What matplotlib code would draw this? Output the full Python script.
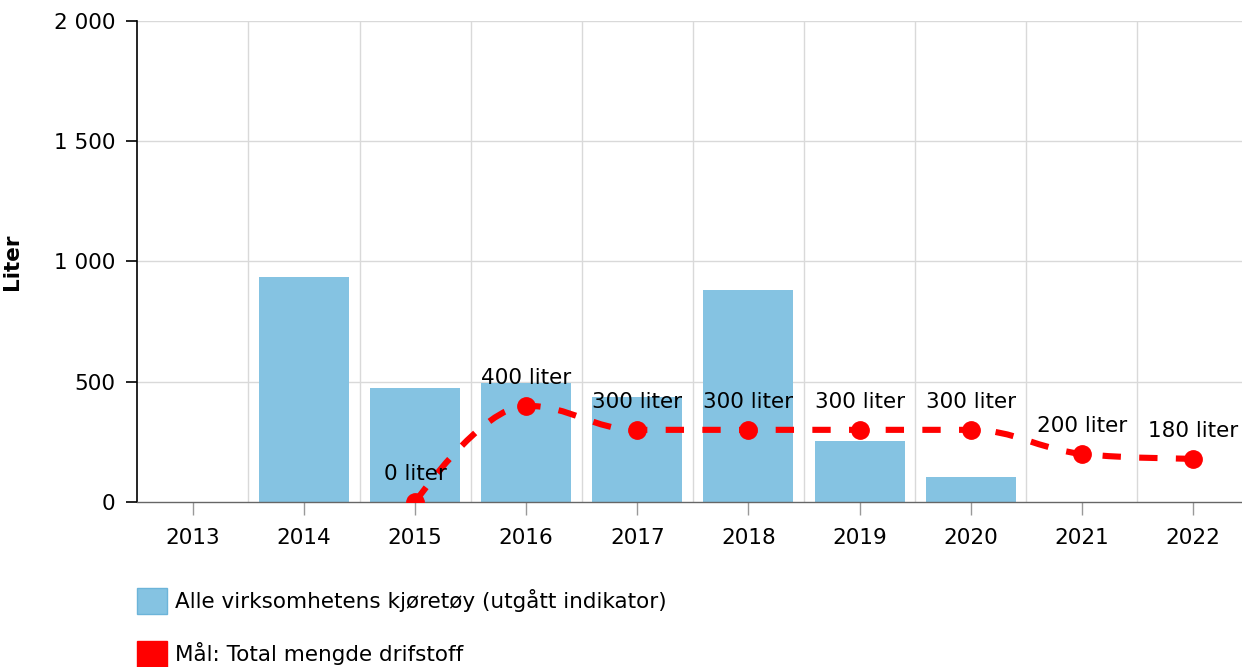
import matplotlib.pyplot as plt
import numpy as np
from matplotlib.path import Path
from matplotlib.patches import PathPatch, Patch
from matplotlib.ticker import FuncFormatter

years = ['2013', '2014', '2015', '2016', '2017', '2018', '2019', '2020', '2021', '2022']
bar_values = [0, 935, 474, 495, 437, 881, 254, 104, 0, 0]
goal_years = ['2015', '2016', '2017', '2018', '2019', '2020', '2021', '2022']
goal_values = [0, 400, 300, 300, 300, 300, 200, 180]

bar_label = 'Alle virksomhetens kjøretøy (utgått indikator)'
goal_label = 'Mål: Total mengde drifstoff'
bar_color = '#85c3e2'
goal_color = '#ff0000'
fs = 15.5


def spline_path(xs, ys, smoothing=1.5):
    # highcharts style spline: cubic bezier with smoothed control points
    n = len(xs)
    left = [(xs[i], ys[i]) for i in range(n)]
    right = [(xs[i], ys[i]) for i in range(n)]
    denom = smoothing + 1
    for i in range(1, n - 1):
        lx = (smoothing * xs[i] + xs[i - 1]) / denom
        ly = (smoothing * ys[i] + ys[i - 1]) / denom
        rx = (smoothing * xs[i] + xs[i + 1]) / denom
        ry = (smoothing * ys[i] + ys[i + 1]) / denom
        if rx != lx:
            corr = (ry - ly) * (rx - xs[i]) / (rx - lx) + ys[i] - ry
            ly += corr
            ry += corr
        if ly > ys[i - 1] and ly > ys[i]:
            ly = max(ys[i - 1], ys[i])
            ry = 2 * ys[i] - ly
        elif ly < ys[i - 1] and ly < ys[i]:
            ly = min(ys[i - 1], ys[i])
            ry = 2 * ys[i] - ly
        if ry > ys[i + 1] and ry > ys[i]:
            ry = max(ys[i + 1], ys[i])
            ly = 2 * ys[i] - ry
        elif ry < ys[i + 1] and ry < ys[i]:
            ry = min(ys[i + 1], ys[i])
            ly = 2 * ys[i] - ry
        left[i] = (lx, ly)
        right[i] = (rx, ry)
    verts = [(xs[0], ys[0])]
    codes = [Path.MOVETO]
    for i in range(1, n):
        verts += [right[i - 1], left[i], (xs[i], ys[i])]
        codes += [Path.CURVE4] * 3
    return Path(verts, codes)


fig = plt.figure(figsize=(12.42, 6.67), dpi=100)
ax = fig.add_axes([0.1106, 0.2474, 0.8946, 0.7211])

x = np.arange(len(years))
ax.bar(x, bar_values, width=0.81, color=bar_color, zorder=2)

gx = [years.index(y) for y in goal_years]
path = spline_path(gx, goal_values)
ax.add_patch(PathPatch(path, fill=False, edgecolor=goal_color, lw=4.4,
                       linestyle=(0, (3, 3)), capstyle='butt', zorder=3))
ax.plot(gx, goal_values, 'o', color=goal_color, markersize=12.5, zorder=4)

for xi, v in zip(gx, goal_values):
    ax.annotate('%d liter' % v, (xi, v), xytext=(0, 13), textcoords='offset points',
                ha='center', va='bottom', fontsize=fs, color='black', zorder=5)

ax.set_xlim(-0.5, len(years) - 0.5)
ax.set_ylim(0, 2000)
ax.set_yticks([0, 500, 1000, 1500, 2000])
ax.yaxis.set_major_formatter(FuncFormatter(lambda v, p: '{:,}'.format(int(v)).replace(',', ' ')))
ax.set_xticks(x)
ax.set_xticklabels(years)

# grid: horizontal at ticks, vertical at category edges
for v in [500, 1000, 1500, 2000]:
    ax.axhline(v, color='#d9d9d9', lw=1, zorder=1)
for b in np.arange(0.5, len(years) - 0.5, 1):
    ax.axvline(b, color='#d9d9d9', lw=1, zorder=1)

for s in ['top', 'right']:
    ax.spines[s].set_visible(False)
ax.spines['left'].set_color('black')
ax.spines['left'].set_linewidth(1.2)
ax.spines['bottom'].set_color('#666666')
ax.spines['bottom'].set_linewidth(1)
ax.tick_params(axis='y', length=8, width=1.2, color='black', labelsize=fs, pad=8)
ax.tick_params(axis='x', length=9, width=1, color='#999999', labelsize=fs, pad=10)

ax.set_ylabel('Liter', fontsize=fs, fontweight='bold')
ax.yaxis.set_label_coords(-0.104, 0.5)

handles = [Patch(facecolor=bar_color, edgecolor='#6cb4d9', lw=1),
           Patch(facecolor=goal_color, edgecolor=goal_color)]
fig.legend(handles, [bar_label, goal_label], loc='upper left',
           bbox_to_anchor=(0.1103, 0.1184), frameon=False, fontsize=fs,
           borderpad=0, borderaxespad=0,
           handlelength=1.4, handleheight=1.5, labelspacing=1.25, handletextpad=0.35)

fig.savefig('out.png', dpi=100)
